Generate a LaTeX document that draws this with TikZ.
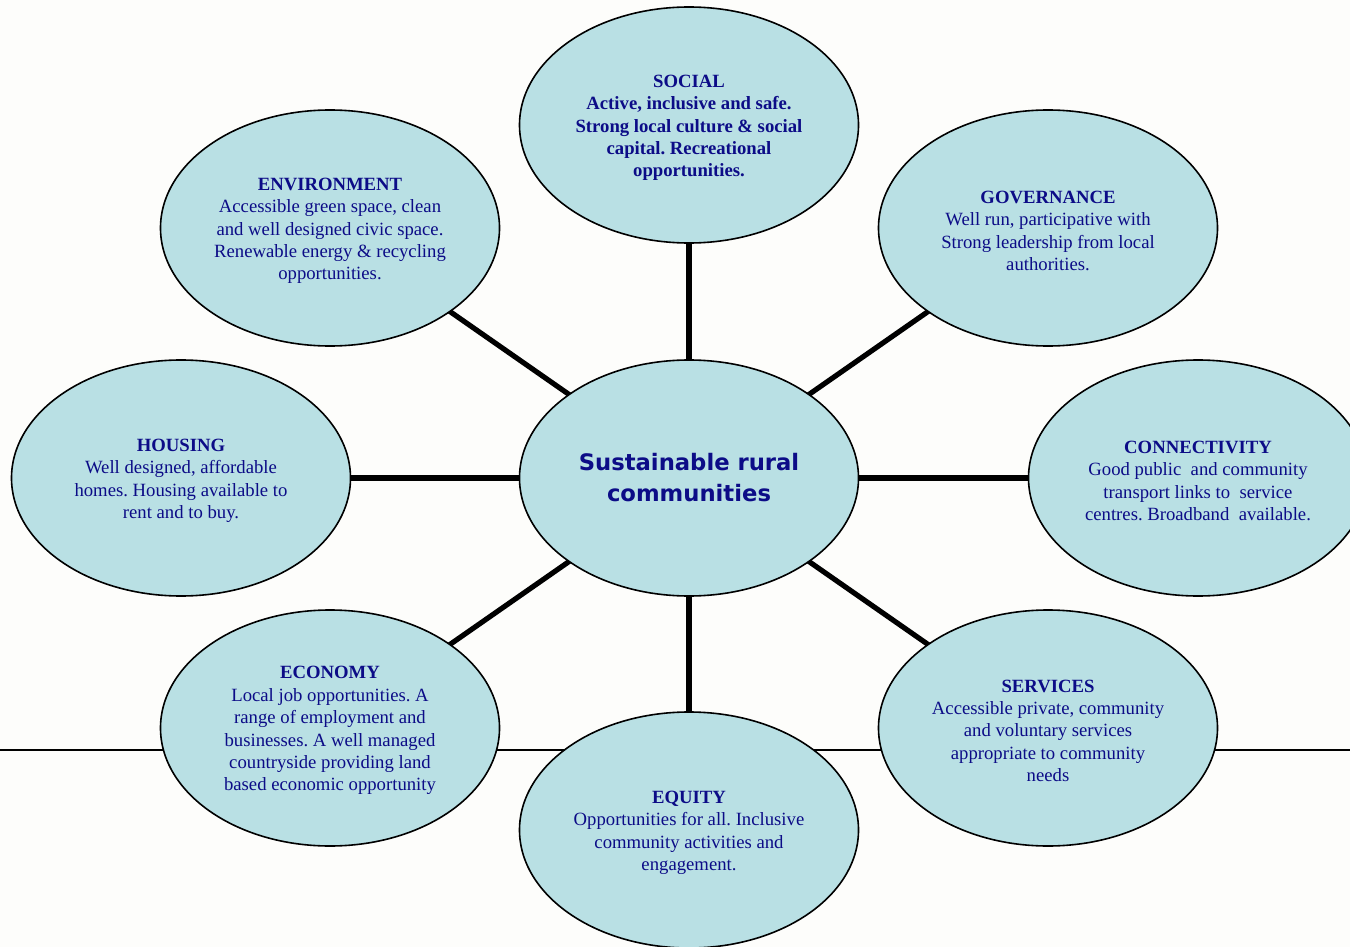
\documentclass[tikz,border=0pt]{standalone}
\usepackage{fontspec}
\setmainfont{Liberation Serif}
\newfontfamily\titlefont{DejaVu Sans}
\usetikzlibrary{shapes.geometric,backgrounds}
\definecolor{bubble}{RGB}{185,224,228}
\definecolor{navytext}{RGB}{12,12,135}
\definecolor{paper}{RGB}{253,253,251}
\frenchspacing
\newcommand\bubblehead[1]{\rule{0pt}{18pt}{\bfseries #1}}
\tikzset{
  bubble/.style={ellipse, draw=black, line width=1.6pt, fill=bubble,
    minimum width=339pt, minimum height=236pt, inner sep=0pt,
    align=center, text=navytext, font=\fontsize{18.7}{22.4}\selectfont},
  hub/.style={bubble, font=\titlefont\bfseries\fontsize{22.7}{31}\selectfont},
  spoke/.style={line width=5.2pt, black},
  rule/.style={line width=1.8pt, black}
}
\begin{document}
\begin{tikzpicture}[x=1pt,y=-1pt]
\useasboundingbox (0,0) rectangle (1350,947);
\clip (0,0) rectangle (1350,947);
\coordinate (ruleL) at (0,750);
\coordinate (ruleR) at (1350,750);
\node[hub] (hub) at (689,478) {Sustainable rural\\communities};
\node[bubble] (soc) at (689,125) {\bubblehead{SOCIAL}\\\bfseries Active, inclusive and safe.\\\bfseries Strong local culture \& social\\\bfseries capital. Recreational\\\bfseries opportunities.};
\node[bubble] (env) at (330,228) {\bubblehead{ENVIRONMENT}\\Accessible green space, clean\\and well designed civic space.\\Renewable energy \& recycling\\opportunities.};
\node[bubble] (gov) at (1048,228) {\bubblehead{GOVERNANCE}\\Well run, participative with\\Strong leadership from local\\authorities.};
\node[bubble] (hou) at (181,478) {\bubblehead{HOUSING}\\Well designed, affordable\\homes. Housing available to\\rent and to buy.};
\node[bubble] (con) at (1198,478) {\bubblehead{CONNECTIVITY}\\Good public\ \ and community\\transport links to\ \ service\\centres. Broadband\ \ available.};
\node[bubble] (eco) at (330,728) {\bubblehead{ECONOMY}\\Local job opportunities. A\\range of employment and\\businesses. A well managed\\countryside providing land\\based economic opportunity};
\node[bubble] (equ) at (689,830) {\bubblehead{EQUITY}\\Opportunities for all. Inclusive\\community activities and\\engagement.};
\node[bubble] (ser) at (1048,728) {\bubblehead{SERVICES}\\Accessible private, community\\and voluntary services\\appropriate to community\\needs};
\begin{pgfonlayer}{background}
\fill[paper] (0,0) rectangle (1350,947);
\draw[rule] (ruleL) -- (ruleR);
\foreach \n in {soc,env,gov,hou,con,eco,equ,ser}{
  \draw[spoke] (hub.center) -- (\n.center);
}
\end{pgfonlayer}
\end{tikzpicture}
\end{document}
